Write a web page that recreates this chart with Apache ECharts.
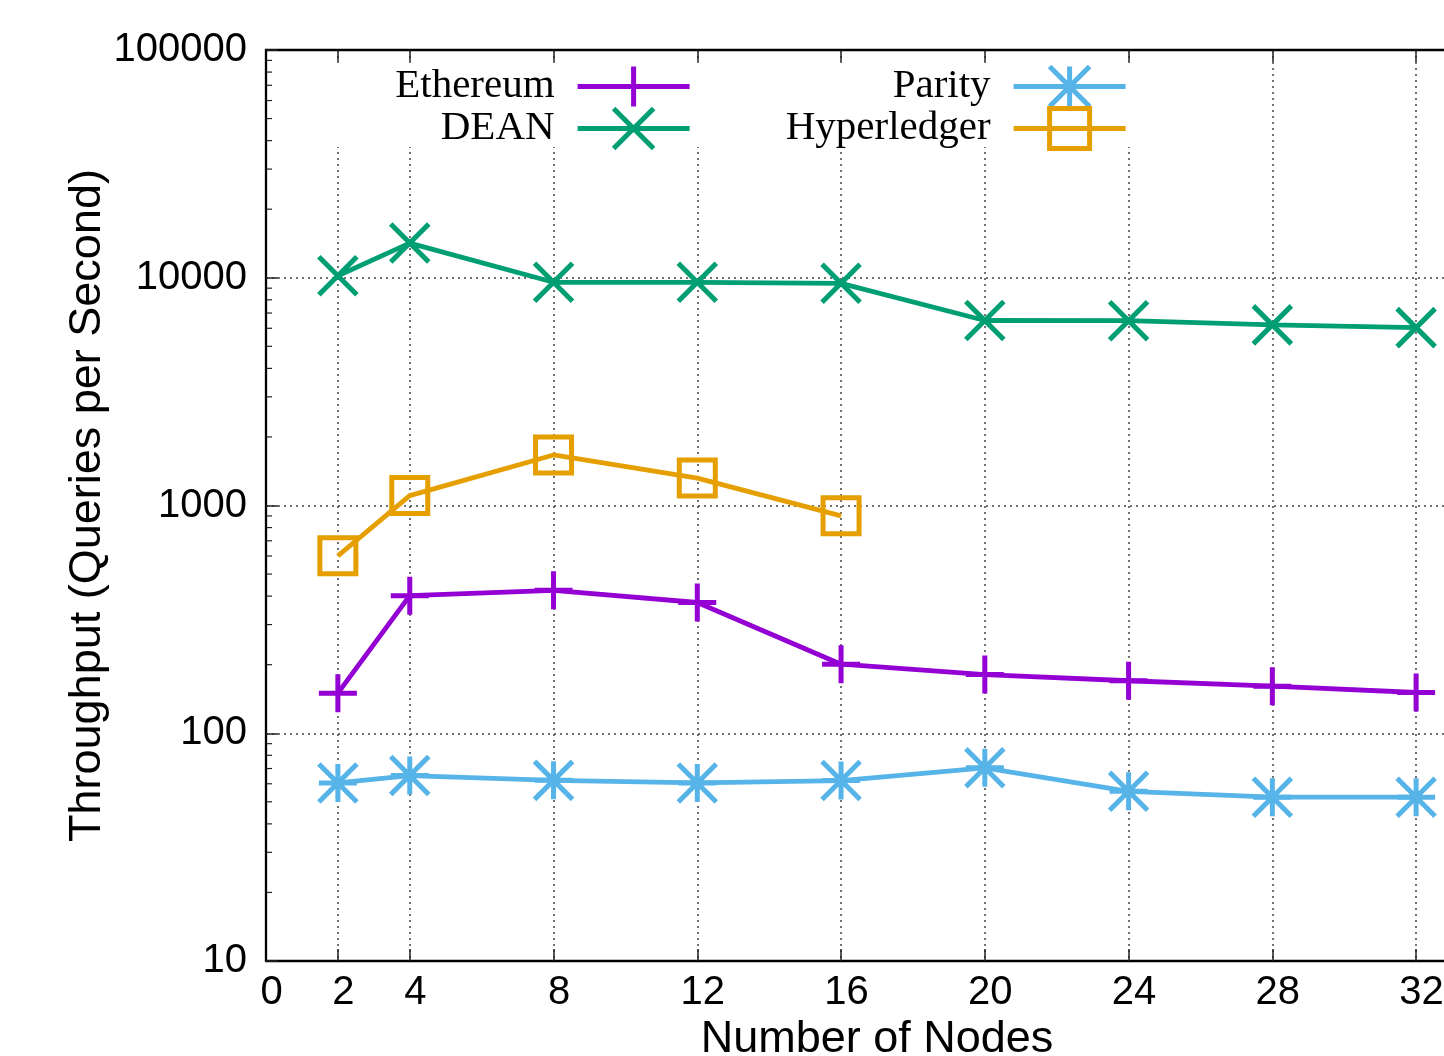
<!DOCTYPE html>
<html>
<head>
<meta charset="utf-8">
<script src="https://cdn.jsdelivr.net/npm/echarts@6/dist/echarts.min.js"></script>
<style>
  html, body { margin: 0; padding: 0; background: #fff; }
  #main { width: 1444px; height: 1056px; }
</style>
</head>
<body>
<div id="main"></div>
<script>
/* throughput vs number of nodes, log scale */
const nodes = [2, 4, 8, 12, 16, 20, 24, 28, 32];
const ethereum = [150, 402, 424, 375, 201, 181, 170, 161, 151];
const dean = [10200, 14200, 9550, 9550, 9450, 6490, 6480, 6210, 6040];
const parity = [60.5, 65.2, 62.1, 60.5, 62, 70.5, 55.6, 52.4, 52.4];
const hyperNodes = [2, 4, 8, 12, 16];
const hyperledger = [601, 1105, 1667, 1319, 901];

const xTicks = [2, 4, 8, 12, 16, 20, 24, 28, 32];
const xLabels = [0, 2, 4, 8, 12, 16, 20, 24, 28, 32];
const yMinor = [20, 30, 40, 50, 60, 70, 80, 90,
                200, 300, 400, 500, 600, 700, 800, 900,
                2000, 3000, 4000, 5000, 6000, 7000, 8000, 9000,
                20000, 30000, 40000, 50000, 60000, 70000, 80000, 90000];

const PLUS = 'path://M0,-1L0,1M-1,0L1,0';
const CROSS = 'path://M-1,-1L1,1M-1,1L1,-1';
const STAR = 'path://M-1,-1L1,1M-1,1L1,-1M0,-1L0,1M-1,0L1,0';
const SQUARE = 'path://M-1,-1L1,-1L1,1L-1,1Z';

function pairs(xs, ys){
    let out = [];
    for (let i = 0; i < xs.length; i++) out.push([xs[i], ys[i]]);
    return out;
}

function lineSeries(name, data, color, symbol, size, filled){
    return {
        name: name,
        type: 'line',
        data: data,
        symbol: symbol,
        symbolSize: size,
        showAllSymbol: true,
        lineStyle: {color: color, width: 4.8},
        itemStyle: {color: filled ? color : 'rgba(0,0,0,0)', borderColor: color, borderWidth: 5},
        emphasis: {disabled: true},
        z: 3
    };
}

const sans = 'Liberation Sans';
const serif = 'Liberation Serif';

function legendAt(name, right, top){
    return {
        data: [name],
        right: right,
        top: top,
        padding: 0,
        align: 'right',
        itemWidth: 112,
        itemHeight: 50,
        selectedMode: false,
        lineStyle: {width: 4.8},
        itemStyle: {borderWidth: 5},
        textStyle: {fontFamily: serif, fontSize: 41, color: '#000', padding: [0, 18, 0, 0]}
    };
}

let chart = echarts.init(document.getElementById('main'), null, {renderer: 'canvas'});
let option = {
    animation: false,
    backgroundColor: '#fff',
    grid: {left: 266, top: 50, bottom: 95, right: -44, containLabel: false, outerBoundsMode: 'none'},
    legend: [
        legendAt('Ethereum', 752, 64),
        legendAt('DEAN', 752, 106),
        legendAt('Parity', 316, 64),
        legendAt('Hyperledger', 316, 106)
    ],
    graphic: [{
        type: 'rect',
        z: 1,
        shape: {x: 328, y: 63, width: 812, height: 84},
        style: {fill: '#fff'}
    }],
    xAxis: [{
        type: 'value',
        min: 0,
        max: 34,
        name: 'Number of Nodes',
        nameLocation: 'middle',
        nameGap: 56,
        nameMoveOverlap: false,
        nameTextStyle: {fontFamily: sans, fontSize: 45, color: '#000'},
        axisLine: {lineStyle: {color: '#000', width: 2.3}},
        axisTick: {inside: true, length: 12, customValues: xTicks, lineStyle: {color: '#222', width: 1.5}},
        axisLabel: {customValues: xLabels, fontFamily: sans, fontSize: 40, color: '#000', margin: 12, padding: [0, 0, 0, 11]},
        splitLine: {show: true, lineStyle: {color: '#444', width: 1.5, type: [2, 4]}}
    }, {
        type: 'value',
        position: 'top',
        min: 0,
        max: 34,
        axisLine: {lineStyle: {color: '#000', width: 2.3}},
        axisTick: {inside: true, length: 12, customValues: xTicks, lineStyle: {color: '#222', width: 1.5}},
        axisLabel: {show: false},
        splitLine: {show: false}
    }],
    yAxis: {
        type: 'log',
        logBase: 10,
        min: 10,
        max: 100000,
        name: 'Throughput (Queries per Second)',
        nameLocation: 'middle',
        nameGap: 156,
        nameMoveOverlap: false,
        nameTextStyle: {fontFamily: sans, fontSize: 45, color: '#000'},
        axisLine: {show: true, lineStyle: {color: '#000', width: 2.3}},
        axisTick: {inside: true, length: 12, lineStyle: {color: '#222', width: 1.5}},
        axisLabel: {fontFamily: sans, fontSize: 40, color: '#000', margin: 19,
                    formatter: v => String(Math.round(v))},
        splitLine: {show: true, lineStyle: {color: '#444', width: 1.5, type: [2, 4]}}
    },
    series: [
        lineSeries('Ethereum', pairs(nodes, ethereum), '#9400d3', PLUS, 38, true),
        lineSeries('DEAN', pairs(nodes, dean), '#009e73', CROSS, 38, true),
        lineSeries('Parity', pairs(nodes, parity), '#56b4e9', STAR, 38, true),
        lineSeries('Hyperledger', pairs(hyperNodes, hyperledger), '#e69f00', SQUARE, 36, false),
        {
            name: 'minor',
            type: 'custom',
            silent: true,
            z: 0,
            data: yMinor.map(v => [0, v]),
            renderItem: function(params, api){
                let p = api.coord([api.value(0), api.value(1)]);
                return {
                    type: 'line',
                    shape: {x1: p[0], y1: p[1], x2: p[0] + 6, y2: p[1]},
                    style: {stroke: '#222', lineWidth: 1.2}
                };
            }
        }
    ]
};
chart.setOption(option);
</script>
</body>
</html>
